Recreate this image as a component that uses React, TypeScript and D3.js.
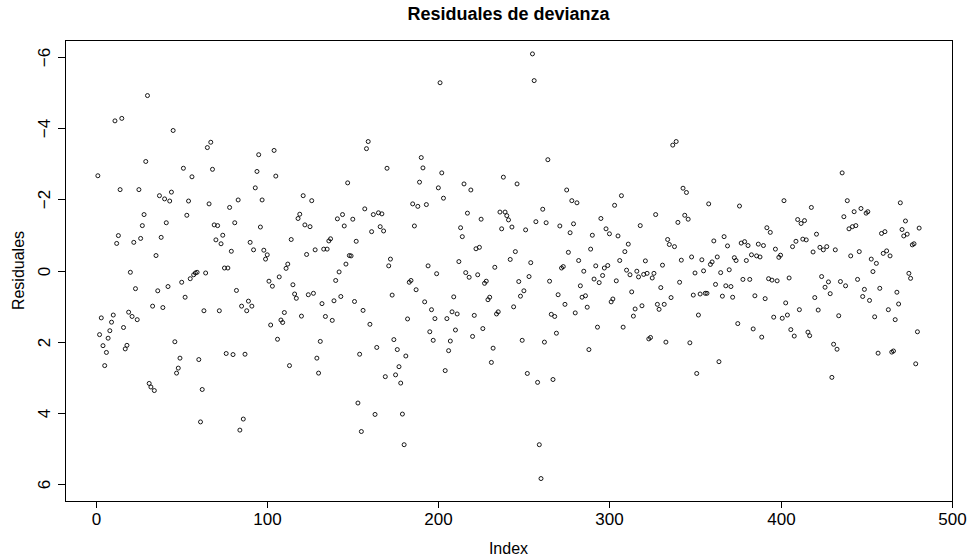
import React, { useEffect, useRef } from "react";
import * as d3 from "d3";

const title = "Residuales de devianza";
const xLabel = "Index";
const yLabel = "Residuales";
const xTicks = [0, 100, 200, 300, 400, 500];
const yTicks = [-6, -4, -2, 0, 2, 4, 6];

const residuals = [
  -2.66, 1.80, 1.33, 2.11, 2.67, 2.30, 1.90, 1.69, 1.45, 1.25,
  -4.20, -0.76, -0.98, -2.27, -4.27, 1.60, 2.20, 2.10, 1.17, 0.05,
  1.29, -0.79, 0.51, 1.38, -2.27, -0.90, -1.26, -1.57, -3.06, -4.91,
  3.17, 3.27, 1.00, 3.37, -0.42, 0.57, -2.10, -0.93, 1.04, -2.01,
  -1.34, 0.45, -1.95, -2.20, -3.93, 2.00, 2.88, 2.74, 2.46, 0.33,
  -2.87, 0.75, -1.55, -1.95, 0.23, -2.63, 0.12, 0.07, 0.05, 2.50,
  4.25, 3.34, 1.13, 0.07, -3.45, -1.87, -3.60, -2.84, -1.28, -0.86,
  -1.26, 1.13, -0.75, -0.99, -0.07, 2.33, -0.07, -1.77, -0.54, 2.36,
  -1.34, 0.56, -1.98, 4.48, 1.00, 4.17, 2.35, 1.13, 0.86, -0.79,
  1.00, -0.58, -2.32, -2.78, -3.25, -1.22, -1.98, -0.57, -0.32, -0.44,
  0.30, 1.53, 0.44, -3.37, -2.65, 1.93, 0.18, 1.39, 1.46, 1.18,
  -0.06, -0.18, 2.67, -0.87, 0.40, 0.66, 0.78, -1.46, -1.58, 1.28,
  -2.10, -1.28, -0.45, 0.68, -1.23, -1.96, 0.64, -0.58, 2.46, 2.88,
  1.99, 0.93, -0.60, 1.29, -0.60, -0.83, -0.89, 1.40, 0.85, 0.28,
  -1.45, 0.04, 0.73, -1.57, -1.25, -0.18, -2.46, -0.42, -0.41, -1.44,
  0.87, -0.82, 3.72, 2.35, 4.52, 1.12, -1.73, -3.42, -3.62, 1.51,
  -1.09, -1.57, 4.04, 2.16, -1.62, -1.23, -1.59, -1.11, 2.98, -2.87,
  -0.13, -0.32, 0.69, 1.94, 2.93, 2.22, 2.70, 3.16, 4.03, 4.89,
  2.40, 1.36, 0.33, 0.28, -1.87, -1.25, 0.54, -1.80, -2.48, -3.17,
  -2.88, 0.88, -1.85, -0.13, 1.72, 1.10, 1.96, 1.35, 0.09, -2.32,
  -5.27, -2.74, -2.03, 2.81, 1.35, 2.25, 1.98, 1.16, 0.74, 1.67,
  1.22, -0.25, -1.20, -0.95, -2.43, 0.06, -1.61, 0.19, -2.26, 1.85,
  1.26, -0.61, 0.12, -0.65, -1.44, 1.63, 0.36, 0.30, 0.82, 0.75,
  2.58, 2.18, -0.09, 1.22, 1.16, -1.64, -1.17, -2.62, -1.64, -1.54,
  -1.42, -0.31, -1.22, 1.02, -0.53, -2.43, 0.31, 0.72, 1.96, 0.57,
  -1.14, 2.89, 0.17, -0.22, -6.08, -5.33, -1.37, 3.14, 4.89, 5.84,
  -1.72, 2.01, -1.34, -3.11, 0.30, 1.23, 3.06, 1.29, 1.76, 0.68,
  -1.25, -0.07, -0.11, 0.95, -2.26, -0.51, -1.06, -1.96, -1.31, 1.19,
  -1.90, -0.28, 0.43, 0.75, 0.02, 0.71, 1.03, 2.22, -0.60, -0.99,
  0.24, -0.13, 1.59, 0.34, -1.46, 0.14, -0.07, -1.17, -0.14, -1.03,
  0.88, 0.80, -1.83, 0.29, -0.97, -0.28, -2.10, 1.59, -0.53, -0.01,
  -0.74, 0.12, 0.60, 1.28, 1.08, 0.02, 0.18, -1.26, 0.99, 0.11,
  -0.27, 0.08, 1.92, 1.88, 0.21, 0.08, -1.57, 0.95, 1.09, 0.48,
  -0.15, 0.95, 2.01, -0.87, -0.73, 0.76, -3.52, -0.67, -3.62, -1.35,
  0.33, -0.29, -2.31, -1.55, -2.19, -1.44, 2.03, -0.38, 0.69, 0.07,
  2.89, 1.25, 0.66, -0.30, 0.01, 0.64, 0.64, -1.87, -0.17, -0.24,
  -0.83, 0.39, -0.38, 2.56, 0.06, 0.72, -0.95, 0.43, -0.69, -0.02,
  0.45, 0.75, -0.36, -0.28, 1.49, -1.81, -0.77, 0.25, -0.81, -0.28,
  -0.70, 0.25, -0.44, 1.64, 0.71, -0.41, -0.74, -0.38, 1.87, -0.70,
  0.79, -1.20, 0.23, -1.07, 0.27, 1.31, -0.60, 0.29, -0.37, -0.43,
  1.34, -1.96, 0.91, 1.25, 0.21, 1.66, -0.67, 1.84, -0.82, -1.43,
  1.10, -1.32, -0.88, -1.40, -0.86, 1.73, 1.83, -1.77, -0.52, 0.76,
  -1.02, 1.11, -0.65, 0.17, -0.58, 0.47, -0.67, 0.32, 0.65, 3.00,
  2.07, -0.58, 2.21, 1.27, 0.31, -2.74, -1.51, 0.43, -1.96, -1.17,
  -0.41, -1.23, -1.65, -1.26, 0.25, -0.53, -1.74, 0.73, 0.53, -1.61,
  -1.65, 0.84, -0.32, 0.03, 1.30, -0.20, 2.32, 0.50, -1.04, -0.48,
  -1.09, -0.55, 1.10, -0.41, 2.29, 2.26, 1.38, 0.61, 0.94, -1.90,
  -1.15, -0.97, -1.39, -1.02, 0.08, 0.22, -0.72, -0.75, 2.62, 1.72,
  -1.19,
];

const W = 968;
const H = 559;
const FONT = "'Liberation Sans', Arial, Helvetica, sans-serif";

export default function App() {
  const ref = useRef<SVGSVGElement | null>(null);

  useEffect(() => {
    const svg = d3.select(ref.current);
    svg.selectAll("*").remove();

    const n = residuals.length;
    const data = residuals.map((v, i) => ({ idx: i + 1, v }));
    const padX = 0.04 * (n - 1);
    const x = d3.scaleLinear().domain([1 - padX, n + padX]).range([65, 952]);
    const y = d3.scaleLinear().domain([-6.47, 6.47]).range([40, 501]);

    const left = 65, right = 952, top = 40, bottom = 501;

    svg.append("rect")
      .attr("x", left + 0.5).attr("y", top + 0.5)
      .attr("width", right - left).attr("height", bottom - top)
      .attr("fill", "none").attr("stroke", "#000").attr("stroke-width", 1);

    const gx = svg.append("g");
    gx.append("line")
      .attr("x1", Math.round(x(xTicks[0])) + 0.5).attr("x2", Math.round(x(xTicks[xTicks.length - 1])) + 0.5)
      .attr("y1", bottom + 0.5).attr("y2", bottom + 0.5).attr("stroke", "#000");
    xTicks.forEach((t) => {
      const px = Math.round(x(t)) + 0.5;
      gx.append("line").attr("x1", px).attr("x2", px)
        .attr("y1", bottom).attr("y2", bottom + 7).attr("stroke", "#000");
      gx.append("text").attr("x", px).attr("y", 525)
        .attr("text-anchor", "middle").attr("font-family", FONT)
        .attr("font-size", 17).text(String(t));
    });

    const gy = svg.append("g");
    gy.append("line")
      .attr("x1", left + 0.5).attr("x2", left + 0.5)
      .attr("y1", Math.round(y(yTicks[0])) + 0.5).attr("y2", Math.round(y(yTicks[yTicks.length - 1])) + 0.5)
      .attr("stroke", "#000");
    yTicks.forEach((t) => {
      const py = Math.round(y(t)) + 0.5;
      gy.append("line").attr("x1", left - 7).attr("x2", left)
        .attr("y1", py).attr("y2", py).attr("stroke", "#000");
      gy.append("text")
        .attr("transform", `translate(50,${py}) rotate(-90)`)
        .attr("text-anchor", "middle").attr("font-family", FONT)
        .attr("font-size", 17).text(t < 0 ? "\u2212" + Math.abs(t) : String(t));
    });

    svg.append("g").selectAll("circle").data(data).join("circle")
      .attr("cx", (d) => x(d.idx)).attr("cy", (d) => y(d.v))
      .attr("r", 2).attr("fill", "none").attr("stroke", "#000").attr("stroke-width", 0.9);

    svg.append("text").attr("x", (left + right) / 2).attr("y", 20)
      .attr("text-anchor", "middle").attr("font-family", FONT)
      .attr("font-size", 18).attr("font-weight", "bold").text(title);
    svg.append("text").attr("x", (left + right) / 2).attr("y", 554)
      .attr("text-anchor", "middle").attr("font-family", FONT)
      .attr("font-size", 16).text(xLabel);
    svg.append("text")
      .attr("transform", `translate(24,${(top + bottom) / 2}) rotate(-90)`)
      .attr("text-anchor", "middle").attr("font-family", FONT)
      .attr("font-size", 16).text(yLabel);
  }, []);

  return (
    <svg
      ref={ref}
      width={W}
      height={H}
      style={{ position: "absolute", left: 0, top: 0, background: "#fff" }}
    />
  );
}
